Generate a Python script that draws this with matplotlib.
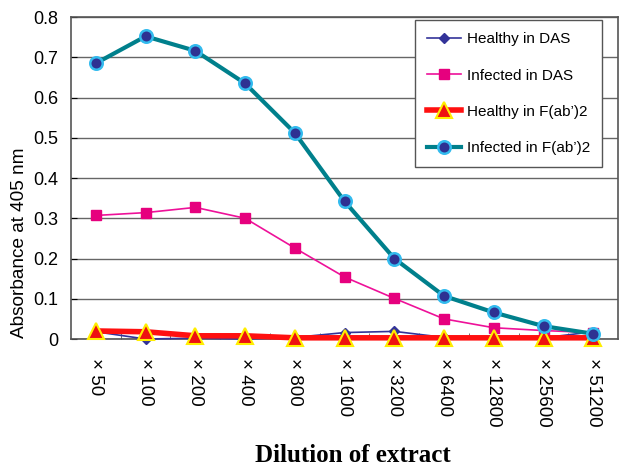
import matplotlib
matplotlib.use("Agg")
import matplotlib.pyplot as plt

dilutions = ["× 50", "× 100", "× 200", "× 400", "× 800", "× 1600", "× 3200",
             "× 6400", "× 12800", "× 25600", "× 51200"]

healthy_das = [0.018, 0.0, 0.002, 0.0, 0.004, 0.016, 0.019, 0.004, 0.003, 0.003, 0.018]
infected_das = [0.307, 0.314, 0.327, 0.300, 0.226, 0.154, 0.101, 0.050, 0.028, 0.021, 0.016]
healthy_fab = [0.020, 0.018, 0.008, 0.008, 0.003, 0.003, 0.003, 0.003, 0.003, 0.003, 0.003]
infected_fab = [0.685, 0.752, 0.716, 0.635, 0.512, 0.342, 0.200, 0.107, 0.066, 0.032, 0.013]

plt.rcParams['font.family'] = ['Liberation Sans', 'DejaVu Sans']

fig = plt.figure(figsize=(6.2, 4.66), dpi=100)
ax = fig.add_axes([0.1145, 0.2725, 0.8825, 0.691])

x = range(len(dilutions))

ax.plot(x, healthy_das, color="#333399", lw=1.2, marker="D", ms=5,
        mfc="#333399", mec="#333399", label="Healthy in DAS", zorder=3, clip_on=False)
ax.plot(x, infected_das, color="#EE1199", lw=1.2, marker="s", ms=7.5,
        mfc="#E6007E", mec="#E6007E", label="Infected in DAS", zorder=3, clip_on=False)
ax.plot(x, healthy_fab, color="#FF1010", lw=4, marker="^", ms=12,
        mfc="#EE1111", mec="#FFEE00", mew=1.5, label="Healthy in F(ab’)2", zorder=4, clip_on=False)
ax.plot(x, infected_fab, color="#00808C", lw=3, marker="o", ms=9,
        mfc="#2E3192", mec="#33BBEE", mew=1.8, label="Infected in F(ab’)2", zorder=5, clip_on=False)

ax.set_xlim(-0.5, len(dilutions) - 0.5)
ax.set_ylim(0, 0.8)
ax.set_yticks([0, 0.1, 0.2, 0.3, 0.4, 0.5, 0.6, 0.7, 0.8])
ax.set_yticklabels(["0", "0.1", "0.2", "0.3", "0.4", "0.5", "0.6", "0.7", "0.8"], fontsize=13)
ax.set_xticks(list(x))
ax.set_xticklabels(dilutions, rotation=270, fontsize=13.5)
ax.tick_params(axis="x", length=0, pad=14)
ax.tick_params(axis="y", length=4, direction="in", pad=9)
# boundary ticks between categories
ax.set_xticks([i + 0.5 for i in range(len(dilutions) - 1)], minor=True)
ax.tick_params(axis="x", which="minor", length=4, direction="in", color="#555555")

ax.grid(axis="y", color="#666666", lw=1)
ax.set_axisbelow(True)
for s in ax.spines.values():
    s.set_color("#555555")
    s.set_linewidth(1.2)

fig.text(0.032, 0.479, "Absorbance at 405 nm", rotation=90, fontsize=13.7,
         ha="center", va="center")
fig.text(0.569, 0.022, "Dilution of extract", fontsize=18, fontweight="bold",
         family="Liberation Serif", ha="center", va="center")

leg = ax.legend(loc="upper right", bbox_to_anchor=(0.971, 0.99), fontsize=11,
                labelspacing=1.45, borderpad=0.8, handlelength=2.2, handletextpad=0.4,
                borderaxespad=0, fancybox=False, edgecolor="#555555", framealpha=1)
leg.get_frame().set_linewidth(1)

fig.savefig("out.png", dpi=100)
